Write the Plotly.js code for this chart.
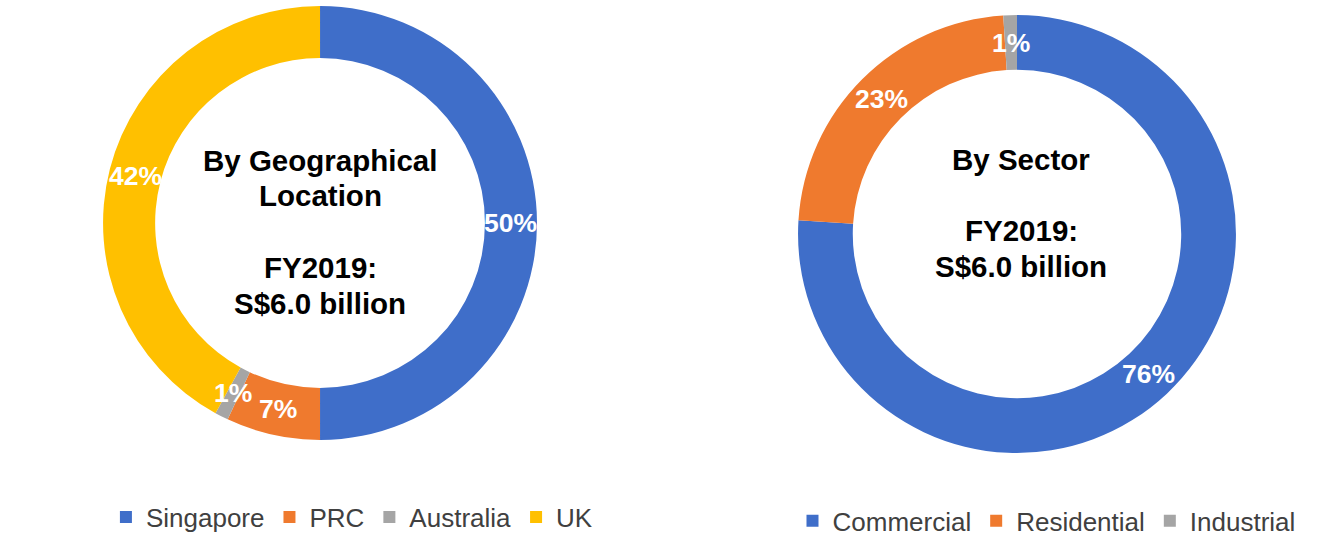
<!DOCTYPE html>
<html>
<head>
<meta charset="utf-8">
<script src="https://cdn.plot.ly/plotly-3.0.1.min.js"></script>
<style>html,body{margin:0;padding:0;background:#fff;}#chart{width:1323px;height:546px;}</style>
</head>
<body>
<div id="chart"></div>
<script>
// Data
const geoLabels = ["Singapore", "PRC", "Australia", "UK"];
const geoValues = [50, 7, 1, 42];
const sectorLabels = ["Commercial", "Residential", "Industrial"];
const sectorValues = [76, 23, 1];
const geoCenterLines = ["By Geographical", "Location", "", "FY2019:", "S$6.0 billion"];
const sectorCenterLines = ["By Sector", "", "FY2019:", "S$6.0 billion"];

const geoColors = ["#3f6ec9", "#ef7a2e", "#a5a5a5", "#ffc000"];
const sectorColors = ["#3f6ec9", "#ef7a2e", "#a5a5a5"];
const fontFam = "'Liberation Sans', Arial, sans-serif";

const W = 1323, H = 546;
const geoDomain = {x: [0.0779, 0.4059], y: [0.1941, 0.989]};
const sectorDomain = {x: [0.6032, 0.9342], y: [0.1703, 0.9725]};
const geoHole = 0.76, sectorHole = 0.75;

const traces = [
  {
    type: "pie", labels: geoLabels, values: geoValues, sort: false,
    direction: "clockwise", rotation: 0, hole: geoHole,
    marker: {colors: geoColors, line: {width: 0}},
    textinfo: "none", domain: geoDomain, legend: "legend", hoverinfo: "skip"
  },
  {
    type: "pie", labels: sectorLabels, values: sectorValues, sort: false,
    direction: "clockwise", rotation: 0, hole: sectorHole,
    marker: {colors: sectorColors, line: {width: 0}},
    textinfo: "none", domain: sectorDomain, legend: "legend2", hoverinfo: "skip"
  }
];

// percent labels placed at the middle of each ring slice, derived from the values
function sliceLabels(values, domain, hole) {
  const w = (domain.x[1] - domain.x[0]) * W, h = (domain.y[1] - domain.y[0]) * H;
  const cx = (domain.x[0] + domain.x[1]) / 2 * W;
  const cy = (1 - (domain.y[0] + domain.y[1]) / 2) * H;
  const R = Math.min(w, h) / 2;
  const rm = R * (1 + hole) / 2;
  const total = values.reduce((a, b) => a + b, 0);
  let cum = 0;
  return values.map(v => {
    const mid = (cum + v / 2) / total * 2 * Math.PI;
    cum += v;
    const px = cx + rm * Math.sin(mid), py = cy - rm * Math.cos(mid);
    return {
      text: "<b>" + Math.round(v / total * 100) + "%</b>",
      x: px / W, y: 1 - py / H, xref: "paper", yref: "paper",
      showarrow: false, xanchor: "center", yanchor: "middle",
      font: {family: fontFam, size: 26.5, color: "#ffffff"}
    };
  });
}

function centerLines(lines, xPaper, yTopPx, spacing) {
  return lines.filter(t => t !== "").length ? lines.map((t, i) => t === "" ? null : ({
    text: "<b>" + t + "</b>", x: xPaper, y: 1 - (yTopPx + i * spacing) / H,
    xref: "paper", yref: "paper", showarrow: false, xanchor: "center", yanchor: "middle",
    font: {family: fontFam, size: 29.5, color: "#000000"}
  })).filter(a => a) : [];
}

const legendBase = {
  orientation: "h", xanchor: "center", yanchor: "middle",
  font: {family: fontFam, size: 26, color: "#404040"},
  bgcolor: "rgba(0,0,0,0)"
};

const layout = {
  width: W, height: H,
  margin: {l: 0, r: 0, t: 0, b: 0},
  paper_bgcolor: "#ffffff",
  showlegend: true,
  legend: Object.assign({}, legendBase, {x: 0.266, y: 0.053}),
  legend2: Object.assign({}, legendBase, {x: 0.791, y: 0.046}),
  annotations: []
    .concat(sliceLabels(geoValues, geoDomain, geoHole))
    .concat(sliceLabels(sectorValues, sectorDomain, sectorHole))
    .concat(centerLines(geoCenterLines, 320 / W, 160, 35.8))
    .concat(centerLines(sectorCenterLines, 1021 / W, 159, 35.7))
};

Plotly.newPlot("chart", traces, layout, {displayModeBar: false, staticPlot: true});
</script>
</body>
</html>
